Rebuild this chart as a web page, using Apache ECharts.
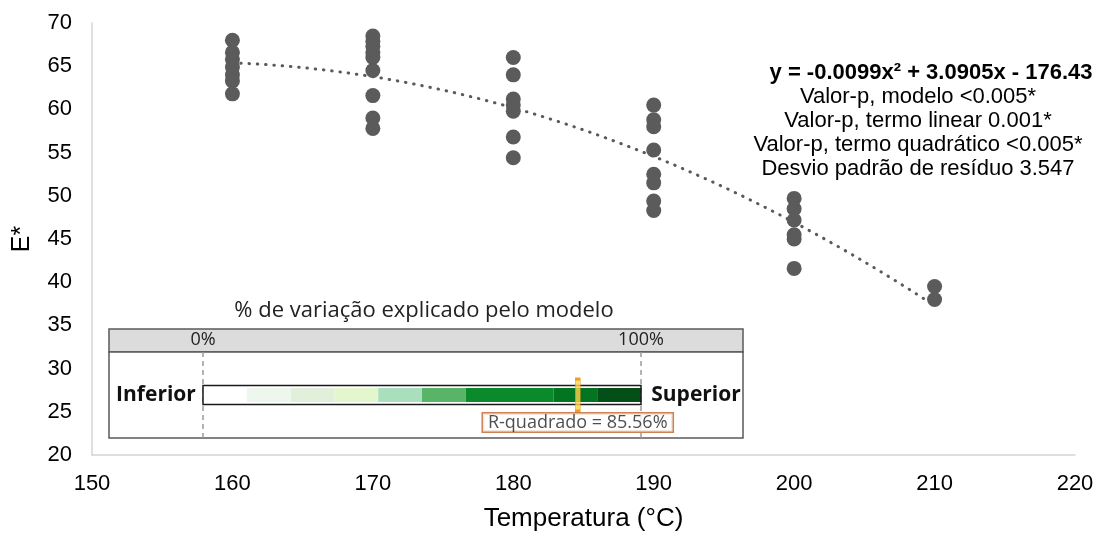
<!DOCTYPE html>
<html>
<head>
<meta charset="utf-8">
<script src="https://cdn.jsdelivr.net/npm/echarts@6/dist/echarts.min.js"></script>
<style>
  html, body { margin: 0; padding: 0; background: #fff; }
  #chart { width: 1100px; height: 537px; }
</style>
</head>
<body>
<div id="chart"></div>
<script>
// E* readings at each processing temperature (°C)
const temperatures = [160, 170, 180, 190, 200, 210];
const e160 = [68.0, 66.6, 65.8, 64.9, 64.0, 63.3, 61.8];
const e170 = [68.5, 67.9, 67.3, 66.6, 66.0, 64.5, 61.6, 59.0, 57.8];
const e180 = [66.0, 64.0, 61.2, 60.5, 59.8, 56.8, 54.4];
const e190 = [60.5, 58.8, 58.0, 55.3, 52.5, 51.5, 49.4, 48.3];
const e200 = [49.7, 48.5, 47.2, 45.5, 45.0, 41.6];
const e210 = [39.5, 38.0];
const groups = [e160, e170, e180, e190, e200, e210];

// Axis ranges
const xMin = 150, xMax = 220, xStep = 10;
const yMin = 20, yMax = 70, yStep = 5;

// Regression summary
const equationText = 'y = -0.0099x\u00B2 + 3.0905x - 176.43';
const statLines = [
  'Valor-p, modelo <0.005*',
  'Valor-p, termo linear 0.001*',
  'Valor-p, termo quadrático <0.005*',
  'Desvio padrão de resíduo 3.547'
];

// Explained-variation gauge
const rSquared = 85.56;
const bandEdges = [0, 10, 20, 30, 40, 50, 60, 80, 90, 100];
const bandColors = ['#ffffff', '#eef7ee', '#e2efda', '#e4f6cb', '#a9dfbd', '#58b466', '#0a8a2a', '#037420', '#044f17'];

const SANS = '"Liberation Sans", Arial, sans-serif';
const UI = '"Open Sans", "Noto Sans", sans-serif';

const points = [];
temperatures.forEach((t, i) => groups[i].forEach(v => points.push([t, v])));

// Least-squares quadratic through the measured points (centered x for stability)
function quadraticFit(pts) {
  const n = pts.length;
  const xm = pts.reduce((s, p) => s + p[0], 0) / n;
  const S = [0, 0, 0, 0, 0], T = [0, 0, 0];
  pts.forEach(([x, y]) => {
    const u = x - xm;
    let p = 1;
    for (let k = 0; k < 5; k++) { S[k] += p; if (k < 3) T[k] += y * p; p *= u; }
  });
  const A = [[S[0], S[1], S[2], T[0]], [S[1], S[2], S[3], T[1]], [S[2], S[3], S[4], T[2]]];
  for (let i = 0; i < 3; i++) {
    for (let r = i + 1; r < 3; r++) {
      const f = A[r][i] / A[i][i];
      for (let c = i; c < 4; c++) A[r][c] -= f * A[i][c];
    }
  }
  const c = [0, 0, 0];
  for (let i = 2; i >= 0; i--) {
    let s = A[i][3];
    for (let j = i + 1; j < 3; j++) s -= A[i][j] * c[j];
    c[i] = s / A[i][i];
  }
  return x => { const u = x - xm; return c[0] + c[1] * u + c[2] * u * u; };
}
const fit = quadraticFit(points);
const trend = [];
const tFirst = temperatures[0], tLast = temperatures[temperatures.length - 1];
for (let t = tFirst; t <= tLast + 1e-9; t += 0.5) trend.push([t, fit(t)]);

const bands = [];
for (let i = 0; i < bandEdges.length - 1; i++) bands.push([bandEdges[i], bandEdges[i + 1], i]);

const chart = echarts.init(document.getElementById('chart'));

const graphics = [
  // gauge panel: header strip and body
  { type: 'rect', z: -1, shape: { x: 109, y: 329, width: 634, height: 23 },
    style: { fill: '#dcdcdc', stroke: '#5a5a5a', lineWidth: 1.5 } },
  { type: 'rect', z: -1, shape: { x: 109, y: 352, width: 634, height: 86 },
    style: { fill: '#ffffff', stroke: '#5a5a5a', lineWidth: 1.5 } },
  { type: 'text', z: 10, x: 424, y: 311,
    style: { text: '% de variação explicado pelo modelo', fontSize: 22, fontFamily: UI,
             fill: '#222', textAlign: 'center', textVerticalAlign: 'middle' } },
  { type: 'text', z: 10, x: 156, y: 395,
    style: { text: 'Inferior', fontSize: 21, fontWeight: 'bold', fontFamily: UI,
             fill: '#111', textAlign: 'center', textVerticalAlign: 'middle' } },
  { type: 'text', z: 10, x: 696, y: 395,
    style: { text: 'Superior', fontSize: 21, fontWeight: 'bold', fontFamily: UI,
             fill: '#111', textAlign: 'center', textVerticalAlign: 'middle' } },
  // regression summary
  { type: 'text', z: 10, x: 931, y: 73,
    style: { text: equationText, fontSize: 22, fontWeight: 'bold', fontFamily: SANS,
             fill: '#000', textAlign: 'center', textVerticalAlign: 'middle' } }
];
statLines.forEach((line, i) => {
  graphics.push({ type: 'text', z: 10, x: 918, y: 97 + i * 24,
    style: { text: line, fontSize: 22, fontFamily: SANS, fill: '#000',
             textAlign: 'center', textVerticalAlign: 'middle' } });
});

chart.setOption({
  animation: false,
  grid: [
    { left: 92, right: 25, top: 23, bottom: 80 },
    { left: 203, right: 459, top: 352, height: 86 }
  ],
  xAxis: [
    { type: 'value', min: xMin, max: xMax, interval: xStep,
      axisLine: { show: true, onZero: false, lineStyle: { color: '#d4d4d4', width: 1.5 } },
      axisTick: { show: false }, splitLine: { show: false },
      axisLabel: { fontSize: 22, color: '#000', fontFamily: SANS, margin: 18 },
      name: 'Temperatura (°C)', nameLocation: 'middle', nameGap: 51,
      nameTextStyle: { fontSize: 26, color: '#000', fontFamily: SANS } },
    { gridIndex: 1, type: 'value', min: 0, max: 100, interval: 100, position: 'top',
      axisLine: { show: false }, axisTick: { show: false },
      axisLabel: { formatter: '{value}%', margin: 3, fontSize: 18, color: '#222', fontFamily: UI },
      splitLine: { show: true, lineStyle: { color: '#9a9a9a', type: [5, 4], width: 1.5 } } }
  ],
  yAxis: [
    { type: 'value', min: yMin, max: yMax, interval: yStep,
      axisLine: { show: true, onZero: false, lineStyle: { color: '#d4d4d4', width: 1.5 } },
      axisTick: { show: false }, splitLine: { show: false },
      axisLabel: { fontSize: 22, color: '#000', fontFamily: SANS, margin: 20 },
      name: 'E*', nameLocation: 'middle', nameGap: 57, nameRotate: 90,
      nameTextStyle: { fontSize: 25, color: '#000', fontFamily: SANS } },
    { gridIndex: 1, type: 'category', data: ['R²'], show: false }
  ],
  graphic: graphics,
  series: [
    { type: 'line', data: trend, showSymbol: false, symbol: 'none', z: 3,
      lineStyle: { color: '#5a5a5a', width: 3, type: [0.5, 7.8], cap: 'round' } },
    { type: 'scatter', data: points, symbol: 'circle', symbolSize: 15, z: 4,
      itemStyle: { color: '#5b5b5b', opacity: 1 } },
    { type: 'custom', xAxisIndex: 1, yAxisIndex: 1, data: bands, z: 2,
      renderItem: (params, api) => {
        const s = api.coord([api.value(0), 0]);
        const e = api.coord([api.value(1), 0]);
        return { type: 'rect', shape: { x: s[0], y: s[1] - 7, width: e[0] - s[0], height: 14 },
                 style: { fill: bandColors[api.value(2)] } };
      } },
    { type: 'custom', xAxisIndex: 1, yAxisIndex: 1, data: [[bandEdges[0], bandEdges[bandEdges.length - 1]]], z: 3,
      renderItem: (params, api) => {
        const s = api.coord([api.value(0), 0]);
        const e = api.coord([api.value(1), 0]);
        return { type: 'rect', shape: { x: s[0], y: s[1] - 9.5, width: e[0] - s[0], height: 19 },
                 style: { fill: 'none', stroke: '#1a1a1a', lineWidth: 1.5 } };
      } },
    { type: 'scatter', xAxisIndex: 1, yAxisIndex: 1, data: [[rSquared, 0]], z: 5,
      symbol: 'rect', symbolSize: [5, 32],
      itemStyle: { color: '#ffd34d', borderColor: '#e88a00', borderWidth: 1.2 },
      label: { show: true, position: 'bottom', distance: 1,
               formatter: 'R-quadrado = ' + rSquared.toFixed(2) + '%',
               fontSize: 18, fontFamily: UI, color: '#222', backgroundColor: '#fff',
               borderColor: '#c0642a', borderWidth: 1.5, padding: [0, 5, 0, 5] } }
  ]
});
</script>
</body>
</html>
